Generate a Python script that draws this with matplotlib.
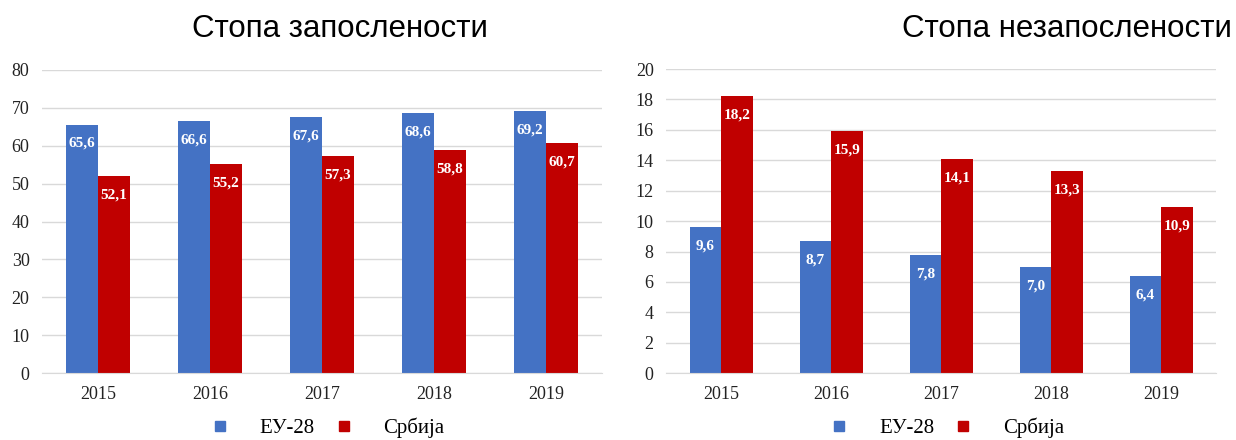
import matplotlib.pyplot as plt
import numpy as np
from matplotlib.lines import Line2D

years = ["2015", "2016", "2017", "2018", "2019"]
eu_emp = [65.6, 66.6, 67.6, 68.6, 69.2]
rs_emp = [52.1, 55.2, 57.3, 58.8, 60.7]
eu_unemp = [9.6, 8.7, 7.8, 7.0, 6.4]
rs_unemp = [18.2, 15.9, 14.1, 13.3, 10.9]
series_names = ["ЕУ-28", "Србија"]

blue = "#4472c4"
red = "#c00000"
serif = "Liberation Serif"

fig = plt.figure(figsize=(12.36, 4.4), dpi=100)
ax1 = fig.add_axes([0.034, 0.152, 0.453, 0.689])
ax2 = fig.add_axes([0.539, 0.152, 0.445, 0.691])

x = np.arange(len(years))
w = 0.285


def draw(ax, eu, rs, ymax, step, off):
    b1 = ax.bar(x - w / 2, eu, w, color=blue)
    b2 = ax.bar(x + w / 2, rs, w, color=red)
    for bars in (b1, b2):
        for b in bars:
            v = b.get_height()
            ax.text(b.get_x() + b.get_width() / 2, v - off, f"{v:.1f}".replace(".", ","),
                    ha="center", va="center", color="white", fontsize=11,
                    fontweight="semibold", family=serif)
    ax.set_ylim(0, ymax)
    ax.set_xlim(-0.5, len(years) - 0.5)
    ax.set_yticks(np.arange(0, ymax + 0.01, step))
    ax.set_xticks(x)
    ax.set_xticklabels(years)
    ax.yaxis.grid(True, color="#d9d9d9", lw=1)
    ax.set_axisbelow(True)
    for s in ["top", "right", "left"]:
        ax.spines[s].set_visible(False)
    ax.spines["bottom"].set_color("#d9d9d9")
    ax.tick_params(length=0, labelsize=13, colors="#222222", pad=9)
    for lab in ax.get_xticklabels() + ax.get_yticklabels():
        lab.set_family(serif)
    handles = [Line2D([], [], marker="s", ls="", color=blue, markersize=7),
               Line2D([], [], marker="s", ls="", color=red, markersize=7)]
    ax.legend(handles, series_names, loc="center", bbox_to_anchor=(0.5, -0.18),
              ncol=2, frameon=False, prop={"family": serif, "size": 15},
              handletextpad=0.9, columnspacing=0.4, borderpad=0.2)


draw(ax1, eu_emp, rs_emp, 80, 10, 5)
draw(ax2, eu_unemp, rs_unemp, 20, 2, 1.25)

fig.text(0.275, 0.935, "Стопа запослености", ha="center", va="center",
         fontsize=22.5, family="Liberation Sans")
fig.text(0.997, 0.935, "Стопа незапослености", ha="right", va="center",
         fontsize=22.5, family="Liberation Sans")

fig.savefig("out.png", dpi=100)
